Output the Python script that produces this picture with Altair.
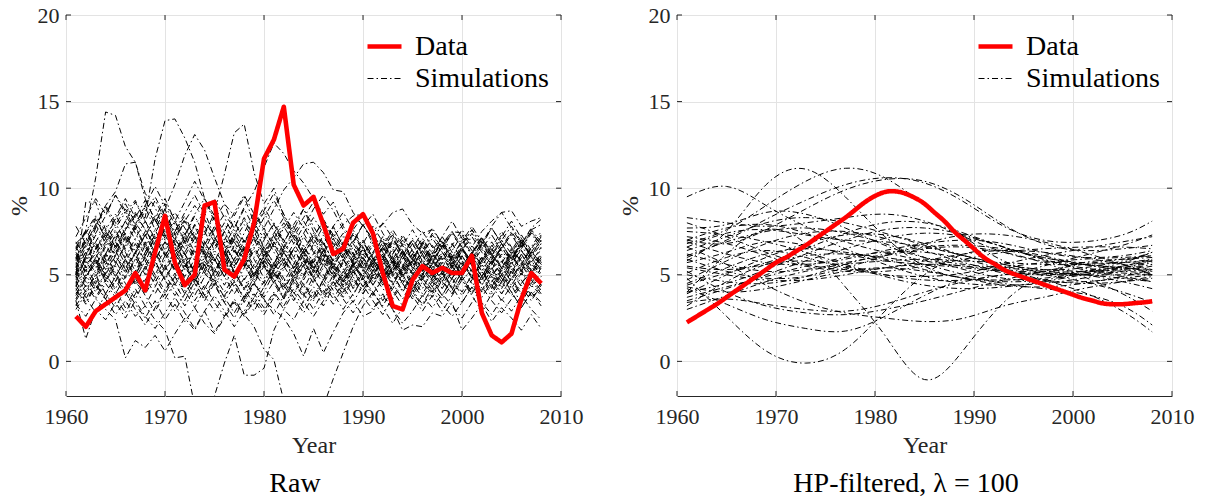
import altair as alt
import pandas as pd

# ---------------------------------------------------------------- data
years = list(range(1961, 2009))

# observed series, raw (yearly, %)
data_raw = [2.6, 2.0, 2.9, 3.3, 3.7, 4.1, 5.1, 4.1, 6.3, 8.4,
            5.7, 4.4, 5.0, 9.0, 9.2, 5.3, 4.9, 5.9, 8.0, 11.7,
            12.8, 14.7, 10.2, 9.0, 9.5, 7.9, 6.2, 6.5, 8.0, 8.5,
            7.4, 5.1, 3.2, 3.0, 4.7, 5.5, 5.1, 5.4, 5.1, 5.1,
            6.1, 2.8, 1.5, 1.1, 1.6, 3.6, 5.1, 4.5]

# observed series, HP-filtered (yearly, %)
data_hp = [2.25, 2.6, 2.95, 3.3, 3.7, 4.1, 4.5, 4.9, 5.3, 5.7,
           6.0, 6.35, 6.7, 7.1, 7.5, 7.9, 8.3, 8.75, 9.2, 9.55,
           9.78, 9.82, 9.7, 9.45, 9.1, 8.6, 8.1, 7.5, 7.0, 6.5,
           6.0, 5.65, 5.3, 5.05, 4.85, 4.65, 4.45, 4.25, 4.05, 3.85,
           3.65, 3.5, 3.35, 3.3, 3.3, 3.35, 3.4, 3.47]

# simulated paths, raw (yearly 1961-2008, %)
sim_raw = [
    [5.0, 7.6, 10.6, 14.4, 14.2, 12.4, 11.5, 9.7, 8.9, 7.4, 8.1, 6.9, 7.5, 6.2, 5.8, 6.6, 5.1, 5.9, 7.2, 6.4,
     5.3, 6.0, 4.7, 5.5, 6.8, 6.1, 7.4, 6.5, 5.6, 4.9, 5.8, 4.6, 5.2, 6.3, 5.7, 4.8, 5.4, 6.1, 5.5, 4.7,
     5.3, 6.0, 5.2, 4.5, 5.8, 6.4, 5.6, 5.1],
    [4.5, 6.1, 7.7, 9.0, 9.8, 11.4, 11.5, 9.4, 8.1, 8.8, 7.3, 6.5, 7.9, 8.6, 7.2, 6.3, 5.5, 6.7, 5.9, 4.8,
     5.6, 6.9, 7.8, 6.6, 5.7, 6.4, 5.2, 4.4, 5.5, 6.2, 5.4, 6.6, 7.3, 6.1, 5.0, 5.8, 6.7, 5.9, 4.8, 5.5,
     6.3, 5.6, 4.9, 5.7, 6.5, 5.8, 5.0, 5.9],
    [6.0, 5.2, 6.5, 7.3, 6.1, 7.6, 8.4, 8.3, 11.7, 13.9, 14.0, 12.9, 11.5, 9.4, 8.2, 9.1, 7.6, 6.8, 7.9, 6.5,
     5.7, 6.6, 7.3, 6.0, 5.2, 6.4, 7.1, 5.9, 5.1, 5.8, 6.7, 5.5, 4.6, 5.4, 6.2, 5.3, 4.5, 5.2, 6.1, 5.6,
     4.9, 5.7, 6.5, 5.4, 4.7, 5.5, 6.3, 5.7],
    [5.5, 6.3, 5.4, 6.8, 7.6, 6.5, 7.8, 8.9, 7.6, 8.8, 10.2, 11.9, 13.1, 12.2, 10.6, 9.1, 8.4, 9.5, 8.0, 7.1,
     7.9, 6.8, 6.0, 7.2, 6.3, 5.5, 6.6, 7.4, 6.2, 5.4, 6.3, 7.0, 5.8, 5.1, 6.0, 6.8, 5.9, 5.0, 5.7, 6.5,
     5.6, 4.9, 5.8, 6.6, 5.7, 5.0, 5.9, 6.4],
    [4.8, 5.9, 6.8, 5.6, 6.5, 7.4, 6.2, 7.3, 8.2, 7.0, 6.1, 7.2, 8.4, 7.3, 8.6, 10.8, 13.2, 13.7, 10.9, 9.1,
     10.0, 8.4, 7.6, 8.8, 7.5, 6.7, 7.8, 6.6, 5.8, 6.9, 5.9, 5.1, 6.2, 7.0, 5.9, 5.2, 6.1, 6.9, 6.0, 5.3,
     6.2, 7.0, 6.1, 5.4, 6.3, 7.1, 6.2, 5.6],
    [5.8, 6.7, 5.6, 6.6, 7.5, 6.4, 5.5, 6.7, 7.6, 6.4, 7.5, 8.4, 7.2, 6.4, 7.6, 8.5, 7.7, 8.9, 9.8, 11.2,
     12.6, 12.0, 11.0, 10.3, 9.4, 8.5, 9.2, 7.8, 6.9, 7.9, 6.8, 6.0, 7.0, 6.2, 5.3, 6.2, 7.1, 6.3, 5.5, 6.4,
     7.2, 6.3, 5.6, 6.5, 7.4, 6.4, 5.7, 6.6],
    [4.2, 3.3, 4.4, 3.6, 2.7, 3.5, 2.6, 3.2, 2.4, 1.8, 0.2, 0.3, -2.6, -3.5, -2.0, -0.1, 1.5, -0.8, -0.8, -0.4,
     1.8, 3.0, 2.4, 3.5, 4.3, 3.6, 4.6, 3.9, 4.8, 4.1, 5.0, 4.2, 3.6, 4.5, 5.3, 4.6, 3.9, 4.8, 5.5, 4.7,
     3.9, 4.7, 5.4, 4.6, 3.8, 4.5, 5.2, 4.4],
    [6.3, 5.4, 6.5, 7.4, 6.3, 7.2, 6.1, 5.3, 6.4, 7.3, 6.2, 5.4, 6.5, 7.5, 8.3, 7.2, 6.3, 7.4, 8.6, 7.7,
     8.8, 9.9, 10.6, 11.4, 11.5, 10.9, 9.9, 9.8, 8.6, 7.8, 8.5, 7.4, 6.5, 7.3, 6.4, 5.6, 6.4, 7.2, 6.3, 5.5,
     6.3, 7.1, 6.2, 5.4, 6.2, 7.0, 6.1, 5.6],
    [3.9, 4.8, 5.7, 4.6, 5.5, 4.5, 3.6, 4.7, 5.6, 4.7, 3.8, 4.6, 3.5, 4.4, 3.4, 2.6, 3.5, 2.7, 2.0, 0.7,
     0.1, -2.3, -4.0, -4.5, -4.0, -2.6, -1.0, 0.5, 2.0, 3.2, 4.0, 3.2, 4.2, 5.0, 4.2, 5.1, 4.3, 3.6, 4.5, 5.3,
     4.5, 3.7, 4.6, 5.4, 4.6, 3.9, 4.8, 5.5],
    [3.5, 4.4, 3.6, 3.0, 2.4, 0.2, 1.2, 0.8, 1.5, 0.6, 1.6, 2.5, 1.8, 2.9, 3.8, 2.9, 2.0, 2.9, 3.9, 3.1,
     4.0, 3.2, 4.2, 3.4, 2.6, 3.5, 4.4, 3.6, 2.8, 3.7, 3.0, 3.9, 3.0, 2.2, 2.9, 3.8, 3.1, 3.9, 3.2, 2.5,
     3.4, 4.3, 3.5, 2.8, 3.6, 4.4, 3.7, 4.2],
    [5.2, 4.3, 5.3, 6.2, 5.1, 4.2, 5.2, 6.0, 5.0, 4.1, 4.9, 3.9, 4.8, 3.8, 2.9, 3.8, 4.6, 3.6, 4.5, 3.5,
     3.0, 2.5, 1.6, 0.3, 1.9, 0.5, 1.7, 2.8, 3.5, 2.6, 2.9, 3.8, 3.0, 1.8, 2.1, 2.0, 2.8, 2.6, 3.4, 1.8,
     2.5, 3.3, 2.3, 3.1, 2.5, 1.8, 2.7, 1.9],
    [5.0, 9.2, 9.2, 7.6, 8.5, 7.3, 6.4, 7.5, 8.4, 7.3, 6.4, 5.5, 6.6, 7.5, 6.4, 5.6, 6.7, 5.8, 4.9, 6.0,
     6.9, 5.9, 5.1, 6.2, 7.1, 6.2, 5.4, 6.5, 7.3, 6.4, 5.6, 6.6, 7.6, 6.7, 5.8, 6.8, 7.7, 6.8, 6.0, 6.9,
     7.8, 6.9, 6.1, 7.0, 7.8, 6.9, 6.1, 7.0],
    [3.5, 1.3, 3.0, 2.4, 3.4, 2.5, 3.5, 2.6, 1.9, 2.8, 3.7, 2.8, 1.9, 2.9, 1.7, 2.6, 3.6, 2.7, 3.7, 2.9,
     3.9, 3.0, 4.0, 3.1, 4.1, 3.2, 4.3, 5.2, 4.3, 5.3, 4.4, 5.4, 4.5, 3.6, 4.6, 5.5, 4.6, 5.5, 4.7, 3.8,
     4.7, 5.6, 4.7, 3.9, 4.8, 5.7, 4.8, 4.1],
    [6.6, 7.5, 8.4, 7.5, 6.6, 7.6, 8.5, 7.6, 6.7, 7.7, 8.6, 7.7, 6.8, 7.8, 6.9, 6.0, 7.0, 7.9, 7.0, 6.1,
     7.1, 8.0, 7.1, 6.2, 7.2, 8.1, 7.2, 7.9, 8.4, 8.5, 7.6, 7.9, 8.6, 8.8, 7.9, 7.4, 7.6, 6.8, 7.5, 7.4,
     6.6, 7.5, 8.1, 8.6, 8.7, 7.8, 8.1, 8.3],
    [4.3, 5.6, 6.2, 7.1, 6.0, 5.4, 6.3, 5.1, 4.6, 5.5, 6.3, 7.2, 6.0, 5.1, 4.4, 5.3, 6.4, 5.6, 4.5, 3.7,
     4.6, 5.3, 6.5, 5.5, 6.2, 7.3, 6.1, 5.4, 4.2, 5.1, 4.5, 3.5, 4.4, 5.5, 4.2, 5.0, 6.2, 5.3, 4.1, 5.2,
     6.3, 5.4, 4.2, 5.1, 4.4, 3.3, 4.5, 5.4],
    [6.8, 7.4, 8.3, 7.1, 8.2, 9.1, 8.0, 7.2, 8.3, 9.4, 8.1, 7.0, 7.8, 6.6, 5.8, 6.9, 5.7, 6.6, 7.5, 6.3,
     5.4, 6.5, 5.8, 4.9, 5.9, 6.9, 5.7, 4.8, 5.6, 6.6, 5.4, 4.7, 5.6, 4.5, 3.8, 4.8, 5.6, 4.6, 3.9, 4.9,
     5.8, 4.9, 3.7, 4.6, 5.5, 4.7, 3.8, 4.5],
    [5.4, 6.6, 7.8, 8.9, 7.7, 8.6, 9.3, 8.1, 7.0, 6.1, 7.0, 8.1, 9.0, 8.2, 7.1, 6.3, 5.4, 6.5, 7.7, 8.6,
     7.5, 6.6, 7.5, 6.4, 5.5, 4.8, 5.9, 6.8, 5.6, 4.9, 5.8, 6.9, 5.9, 5.0, 4.1, 5.0, 6.0, 6.9, 5.8, 6.6,
     5.5, 4.7, 5.6, 6.6, 7.3, 6.4, 5.5, 6.2],
    [4.0, 3.6, 4.7, 5.8, 4.9, 5.9, 4.6, 3.9, 4.8, 5.9, 6.8, 5.7, 4.6, 3.5, 4.5, 5.7, 4.6, 3.7, 4.9, 5.8,
     4.7, 3.6, 4.5, 5.6, 4.8, 3.9, 5.0, 6.1, 5.2, 4.3, 5.2, 6.2, 5.1, 4.0, 4.9, 3.9, 4.8, 5.9, 6.8, 5.9,
     4.8, 5.9, 6.9, 6.0, 5.1, 6.2, 5.3, 4.4],
    [5.9, 6.9, 5.8, 4.6, 5.6, 6.8, 7.7, 6.6, 5.5, 6.4, 5.3, 4.5, 5.6, 6.7, 7.8, 6.7, 5.8, 4.7, 5.6, 6.5,
     7.4, 8.3, 7.1, 6.2, 5.1, 6.1, 5.0, 4.1, 5.2, 6.1, 7.1, 6.3, 5.2, 6.1, 7.0, 6.1, 5.3, 4.4, 5.4, 6.4,
     5.5, 4.4, 5.3, 4.6, 5.6, 6.6, 7.5, 6.7],
    [4.6, 3.7, 2.8, 3.9, 3.1, 4.2, 3.3, 2.5, 3.5, 2.4, 3.3, 2.3, 3.1, 2.2, 1.6, 2.5, 3.4, 2.6, 3.5, 2.7,
     3.7, 4.6, 3.7, 2.8, 3.8, 4.7, 3.9, 3.0, 3.9, 4.8, 4.0, 3.1, 2.2, 3.1, 4.0, 3.2, 4.1, 3.3, 2.6, 3.4,
     4.3, 3.4, 2.7, 3.6, 2.9, 3.8, 3.0, 2.4],
    [6.2, 5.1, 6.0, 6.9, 7.9, 8.8, 7.9, 9.0, 8.0, 9.1, 8.2, 7.3, 8.5, 9.4, 8.4, 7.5, 8.6, 9.6, 8.5, 7.6,
     6.6, 7.7, 8.6, 7.7, 8.8, 9.6, 8.7, 7.6, 6.8, 7.9, 7.0, 6.0, 7.1, 6.3, 5.4, 6.4, 5.6, 6.7, 7.5, 6.6,
     5.7, 6.8, 7.7, 6.8, 5.9, 6.8, 7.6, 7.9],
    [5.7, 4.8, 5.9, 5.0, 4.2, 5.3, 4.4, 5.5, 4.4, 3.6, 4.6, 5.6, 4.7, 5.8, 4.9, 4.0, 4.9, 5.9, 5.0, 6.1,
     5.2, 4.3, 5.4, 6.3, 5.3, 4.5, 5.5, 4.6, 5.7, 4.8, 3.9, 4.8, 5.7, 4.9, 5.8, 4.8, 4.0, 4.9, 5.8, 4.9,
     4.0, 4.9, 5.8, 5.0, 4.2, 5.1, 4.3, 5.2],
    [4.9, 6.1, 7.3, 6.2, 7.3, 6.3, 5.2, 6.3, 7.4, 8.5, 7.5, 8.6, 9.6, 8.5, 9.4, 8.3, 7.2, 8.2, 7.1, 6.2,
     7.2, 6.3, 5.3, 6.4, 7.3, 6.4, 5.5, 6.4, 7.4, 6.5, 5.6, 6.7, 5.9, 5.0, 5.9, 6.9, 6.0, 5.1, 6.0, 7.0,
     6.1, 5.2, 6.1, 7.0, 6.2, 5.3, 6.3, 5.8],
    [3.8, 4.9, 5.8, 4.8, 3.9, 4.9, 5.9, 6.9, 5.8, 4.7, 5.8, 4.8, 3.8, 4.9, 5.9, 4.9, 3.9, 4.8, 3.7, 4.6,
     5.7, 4.8, 3.9, 4.9, 5.8, 6.8, 5.8, 4.9, 5.9, 6.9, 6.0, 5.0, 5.9, 6.8, 5.9, 5.0, 6.0, 6.9, 5.9, 5.0,
     5.9, 6.8, 5.9, 5.0, 6.0, 6.9, 6.0, 5.3],
    [6.0, 7.1, 6.2, 5.3, 6.4, 5.3, 6.3, 7.3, 6.2, 5.2, 6.2, 5.3, 6.4, 5.5, 6.6, 7.5, 6.4, 5.5, 6.5, 7.4,
     6.3, 5.4, 6.5, 7.4, 6.4, 5.6, 4.8, 5.8, 6.8, 5.9, 6.9, 6.0, 5.1, 6.1, 7.0, 6.2, 7.3, 6.5, 7.4, 6.8,
     7.6, 6.8, 7.8, 8.6, 7.7, 6.8, 7.6, 6.9],
    [4.4, 5.3, 4.2, 5.1, 6.2, 7.1, 6.0, 5.0, 5.9, 6.9, 5.9, 7.0, 6.1, 5.1, 6.2, 5.2, 4.3, 5.4, 6.4, 5.5,
     4.5, 5.5, 4.6, 3.7, 4.6, 5.6, 4.6, 3.7, 4.7, 3.9, 4.9, 5.9, 5.0, 4.1, 5.0, 5.9, 5.1, 4.2, 5.2, 6.1,
     5.2, 4.4, 5.3, 6.2, 5.3, 4.5, 5.3, 4.6],
    [6.6, 5.7, 6.9, 7.9, 6.9, 5.9, 5.0, 6.0, 5.0, 6.1, 7.1, 6.2, 5.1, 4.2, 5.2, 6.2, 5.2, 4.2, 5.2, 4.3,
     5.3, 4.4, 3.5, 4.5, 3.6, 4.7, 5.6, 4.7, 3.8, 4.9, 5.9, 5.0, 4.1, 3.2, 4.1, 3.3, 4.3, 5.2, 4.3, 3.4,
     4.3, 5.2, 4.4, 3.5, 4.4, 5.3, 4.4, 3.8],
    [5.1, 6.0, 5.1, 6.2, 7.2, 8.1, 7.0, 6.1, 7.2, 6.2, 5.3, 6.3, 7.3, 6.2, 5.2, 6.3, 7.4, 6.4, 5.3, 6.2,
     5.2, 6.3, 7.2, 8.1, 7.1, 8.2, 7.3, 6.3, 5.4, 6.5, 5.6, 4.7, 5.8, 4.9, 5.9, 6.8, 5.8, 5.0, 5.9, 5.0,
     5.9, 6.9, 6.0, 5.2, 6.1, 5.2, 6.2, 7.0],
    [4.7, 5.5, 4.5, 3.6, 4.7, 3.8, 4.8, 5.8, 4.8, 3.9, 4.9, 6.0, 5.0, 6.0, 7.0, 6.0, 7.1, 6.1, 5.0, 5.9,
     4.9, 5.9, 4.9, 5.8, 4.8, 3.8, 4.7, 5.7, 6.6, 5.6, 4.6, 5.6, 6.5, 5.6, 4.6, 5.6, 4.7, 3.8, 4.8, 5.8,
     4.9, 4.0, 4.9, 5.8, 4.8, 3.9, 4.9, 5.7],
    [3.2, 4.1, 5.0, 6.1, 7.0, 6.0, 7.1, 8.1, 7.1, 8.0, 7.0, 6.1, 7.1, 6.0, 5.0, 6.0, 5.1, 4.1, 5.0, 6.1,
     5.1, 4.2, 5.1, 6.2, 5.3, 6.4, 5.5, 4.6, 5.6, 4.7, 5.7, 6.6, 5.7, 6.7, 7.6, 6.6, 5.7, 6.6, 7.4, 6.5,
     5.6, 6.5, 7.3, 6.4, 5.6, 6.5, 7.4, 6.5],
    [5.5, 4.6, 3.7, 4.7, 5.8, 4.8, 5.9, 6.8, 5.8, 6.9, 5.8, 4.9, 5.9, 6.9, 5.9, 4.9, 5.9, 7.0, 6.0, 7.0,
     8.0, 7.0, 6.0, 5.0, 6.0, 5.0, 4.1, 5.1, 6.1, 5.2, 6.2, 7.1, 6.2, 7.2, 6.3, 5.3, 6.3, 5.4, 6.4, 7.3,
     6.4, 5.5, 6.4, 7.3, 6.5, 5.6, 6.6, 7.5],
    [6.4, 7.5, 6.5, 7.6, 6.6, 7.7, 8.6, 7.6, 6.6, 7.6, 6.6, 5.6, 4.6, 5.6, 4.6, 3.7, 4.7, 5.7, 4.7, 5.8,
     6.8, 5.8, 6.8, 5.9, 4.9, 5.9, 6.9, 5.9, 4.9, 5.8, 4.8, 5.8, 4.9, 5.9, 6.8, 5.8, 4.8, 5.7, 4.8, 5.7,
     4.8, 5.8, 6.7, 5.9, 5.0, 6.0, 5.1, 6.0],
    [7.2, 8.3, 9.4, 8.5, 9.6, 8.7, 7.6, 8.7, 9.5, 8.4, 7.3, 8.2, 7.2, 6.1, 7.0, 8.0, 6.9, 5.9, 6.8, 7.7,
     6.6, 5.6, 6.5, 7.4, 8.3, 7.4, 6.3, 7.2, 6.2, 5.3, 6.3, 7.2, 6.4, 5.5, 6.5, 7.5, 6.6, 5.7, 6.7, 7.6,
     6.7, 5.8, 6.6, 7.5, 6.6, 5.7, 6.5, 7.3],
    [3.3, 2.6, 3.6, 4.5, 3.7, 2.8, 3.9, 4.8, 3.9, 5.0, 4.1, 3.2, 4.2, 5.3, 4.4, 3.4, 2.5, 3.6, 4.6, 3.6,
     2.7, 3.8, 4.9, 3.9, 3.0, 4.1, 3.3, 4.3, 3.4, 4.4, 3.5, 2.7, 3.7, 4.7, 3.8, 2.9, 3.8, 2.9, 3.8, 4.7,
     3.8, 2.9, 3.9, 4.8, 4.0, 3.1, 4.0, 3.2],
    [5.9, 7.0, 8.2, 7.1, 8.3, 9.4, 8.3, 9.3, 8.2, 7.1, 8.1, 9.2, 10.4, 9.3, 8.1, 7.0, 8.1, 6.9, 7.8, 8.7,
     9.7, 8.5, 7.4, 8.3, 9.2, 8.1, 7.1, 6.1, 7.0, 6.0, 5.2, 6.2, 5.4, 6.4, 5.5, 4.7, 5.7, 6.7, 5.8, 6.7,
     7.6, 6.6, 5.7, 6.6, 5.8, 6.8, 7.7, 8.2],
    [4.1, 5.0, 4.0, 5.1, 4.1, 3.1, 4.2, 3.2, 4.3, 5.4, 4.4, 5.5, 4.5, 3.6, 4.7, 3.7, 2.8, 3.8, 2.9, 4.0,
     5.1, 4.1, 5.2, 4.2, 5.3, 6.2, 5.2, 4.3, 5.3, 4.3, 5.3, 4.4, 5.4, 4.5, 3.6, 4.6, 3.7, 4.7, 3.9, 4.9,
     3.9, 4.9, 4.0, 5.0, 4.0, 3.1, 4.0, 3.4],
    [6.9, 5.8, 4.9, 5.9, 7.0, 8.1, 9.2, 8.1, 9.3, 8.2, 7.1, 6.2, 5.1, 6.1, 5.1, 6.2, 7.3, 8.3, 7.2, 8.3,
     9.3, 8.3, 7.3, 6.4, 7.4, 6.5, 5.6, 6.6, 5.7, 6.8, 7.8, 6.9, 6.0, 5.1, 6.0, 5.2, 6.1, 7.0, 6.1, 5.2,
     6.2, 7.2, 6.2, 5.4, 6.4, 7.3, 6.4, 5.6],
    [4.9, 4.0, 5.0, 3.9, 4.9, 5.9, 4.8, 3.8, 2.9, 3.9, 2.9, 3.9, 4.9, 3.8, 4.8, 5.8, 4.7, 5.7, 6.6, 5.6,
     4.6, 5.6, 6.5, 5.5, 4.5, 5.4, 6.3, 5.3, 6.3, 5.4, 4.4, 5.3, 4.4, 5.4, 4.5, 3.7, 4.6, 3.8, 4.8, 4.0,
     5.0, 4.1, 5.1, 4.3, 5.2, 4.3, 3.5, 4.4],
    [5.3, 6.3, 7.4, 8.4, 9.6, 8.5, 7.4, 6.3, 7.3, 6.2, 5.2, 6.2, 5.2, 6.4, 5.4, 4.4, 5.4, 6.5, 5.5, 4.5,
     5.6, 6.6, 5.7, 4.7, 5.7, 4.7, 5.8, 6.9, 6.0, 7.0, 6.0, 5.1, 6.1, 5.2, 6.2, 7.1, 6.2, 7.2, 8.1, 7.1,
     6.2, 7.1, 6.2, 7.2, 8.1, 7.1, 6.3, 7.2],
    [3.6, 4.8, 6.0, 5.0, 6.1, 5.1, 6.3, 7.3, 6.3, 5.3, 6.3, 7.4, 6.3, 5.3, 6.4, 7.5, 6.5, 5.5, 4.6, 5.6,
     4.7, 3.7, 4.7, 5.8, 4.8, 5.9, 4.9, 4.0, 5.0, 6.0, 5.0, 6.0, 5.1, 6.1, 5.1, 4.2, 5.2, 6.1, 5.1, 6.1,
     5.1, 6.0, 5.0, 4.2, 5.2, 6.2, 5.2, 6.1],
    [6.5, 7.6, 6.6, 5.6, 4.6, 5.7, 6.8, 5.8, 6.9, 7.9, 6.8, 5.8, 4.8, 5.8, 6.9, 5.9, 4.8, 5.9, 4.9, 5.8,
     6.8, 7.8, 6.8, 7.8, 6.8, 7.8, 6.8, 5.9, 6.9, 7.9, 7.0, 8.0, 7.1, 6.1, 7.1, 6.2, 5.3, 6.3, 5.4, 6.4,
     7.4, 6.5, 5.6, 6.6, 7.5, 6.6, 7.5, 6.7],
    [4.4, 3.4, 4.5, 5.6, 6.7, 5.6, 4.5, 5.5, 6.6, 5.5, 4.5, 3.5, 4.6, 5.6, 4.5, 3.4, 4.4, 3.4, 4.5, 5.5,
     4.5, 3.6, 4.7, 3.8, 4.9, 5.9, 4.9, 5.9, 4.9, 3.9, 4.9, 5.9, 6.9, 5.9, 6.8, 5.8, 4.9, 5.9, 6.8, 5.8,
     4.9, 5.8, 4.9, 3.9, 4.8, 5.6, 4.7, 3.9],
    [5.6, 6.8, 7.9, 9.0, 8.0, 6.9, 7.9, 9.0, 10.1, 9.0, 7.9, 6.9, 5.8, 6.8, 7.8, 6.7, 7.7, 8.8, 7.7, 6.6,
     5.6, 4.6, 5.6, 6.7, 5.7, 6.7, 7.8, 8.6, 7.6, 8.4, 7.4, 6.4, 7.4, 6.4, 5.5, 6.4, 7.4, 6.5, 5.6, 6.6,
     5.7, 6.7, 7.7, 6.8, 5.9, 6.9, 6.0, 6.8],
    [3.0, 3.9, 4.8, 3.9, 4.9, 4.0, 3.0, 2.1, 3.1, 4.1, 5.1, 4.1, 3.1, 4.2, 5.2, 6.2, 5.2, 4.2, 3.3, 4.3,
     5.3, 6.3, 5.4, 4.4, 3.5, 4.5, 3.6, 4.6, 5.6, 4.7, 3.8, 4.8, 5.8, 4.9, 4.0, 4.9, 4.1, 5.1, 4.2, 5.2,
     6.1, 5.2, 4.3, 5.3, 6.2, 5.2, 4.3, 4.9],
    [7.8, 6.8, 7.9, 6.8, 5.7, 6.7, 7.8, 6.7, 5.7, 4.8, 5.8, 6.9, 7.9, 6.9, 5.9, 4.9, 5.9, 6.9, 7.9, 8.9,
     7.9, 6.9, 7.9, 8.8, 7.8, 6.8, 7.7, 6.7, 7.6, 6.6, 5.7, 6.6, 5.7, 4.8, 5.7, 6.7, 5.8, 6.7, 5.8, 4.9,
     5.8, 4.9, 5.9, 6.8, 5.9, 6.9, 6.0, 5.2],
    [5.0, 5.9, 6.9, 5.9, 5.0, 4.0, 5.0, 6.1, 7.1, 6.1, 7.1, 8.1, 7.1, 8.2, 7.2, 6.2, 7.2, 6.2, 5.3, 6.3,
     7.3, 6.3, 5.4, 6.4, 5.4, 6.4, 5.4, 4.5, 5.5, 6.5, 5.5, 4.5, 5.5, 6.4, 5.4, 6.4, 5.5, 4.6, 5.6, 6.5,
     5.6, 4.7, 5.7, 4.8, 5.8, 6.7, 5.8, 4.9],
]

# simulated paths after HP filtering, sampled every four years (%)
hp_years = [1961, 1965, 1969, 1973, 1977, 1981, 1985, 1989, 1993, 1997, 2001, 2005, 2008]
sim_hp = [
    [9.5, 10.1, 9.0, 7.8, 6.9, 6.3, 5.8, 5.5, 5.3, 5.1, 5.0, 5.0, 5.0],
    [5.8, 7.5, 10.2, 11.1, 9.5, 7.2, 5.5, 4.8, 4.7, 4.8, 5.1, 5.4, 5.7],
    [4.0, 6.2, 7.6, 6.8, 4.3, 1.5, -1.05, 0.7, 3.4, 5.0, 5.7, 5.9, 6.0],
    [4.8, 2.6, 0.6, -0.1, 0.7, 2.9, 5.0, 6.2, 6.4, 6.0, 5.6, 5.4, 5.3],
    [4.2, 3.3, 2.4, 1.9, 1.75, 2.6, 3.8, 4.8, 5.4, 5.7, 5.9, 6.0, 6.1],
    [6.6, 5.6, 4.4, 3.4, 2.8, 2.5, 2.3, 2.5, 3.2, 3.7, 4.2, 4.6, 4.9],
    [5.2, 4.0, 3.2, 2.8, 2.7, 3.0, 3.5, 4.1, 4.7, 5.2, 5.6, 5.9, 6.1],
    [3.4, 3.6, 3.3, 3.0, 2.9, 3.3, 4.0, 4.6, 5.0, 5.1, 5.0, 4.8, 4.6],
    [6.0, 7.0, 8.2, 9.3, 10.2, 10.6, 10.3, 9.2, 7.8, 7.0, 6.9, 7.3, 8.1],
    [6.8, 7.6, 9.0, 10.4, 11.15, 10.6, 9.0, 7.2, 5.8, 5.1, 5.0, 5.3, 5.6],
    [7.0, 6.8, 7.6, 8.8, 9.9, 10.5, 10.4, 9.4, 7.9, 6.8, 6.4, 6.5, 6.7],
    [8.3, 8.0, 7.8, 8.0, 8.3, 8.5, 8.1, 7.2, 6.3, 5.8, 5.6, 5.4, 5.2],
    [7.7, 7.9, 8.6, 8.5, 7.7, 6.7, 6.0, 5.6, 5.4, 5.2, 5.0, 4.6, 4.2],
    [6.6, 7.4, 7.6, 7.3, 7.0, 6.9, 6.6, 6.1, 5.6, 5.3, 5.4, 5.8, 6.3],
    [5.7, 6.3, 6.9, 6.7, 6.2, 5.8, 5.6, 5.4, 5.2, 5.0, 4.6, 4.0, 3.4],
    [5.1, 6.0, 6.4, 6.0, 5.4, 5.0, 4.9, 5.1, 5.6, 6.1, 6.5, 6.9, 7.2],
    [4.5, 5.4, 6.2, 6.5, 6.3, 5.9, 5.3, 4.8, 4.6, 4.7, 5.1, 5.5, 5.8],
    [3.2, 4.6, 5.6, 6.1, 6.2, 6.0, 5.6, 5.0, 4.5, 4.2, 3.9, 3.2, 2.1],
    [3.7, 4.3, 4.9, 5.5, 6.0, 6.3, 6.3, 5.9, 5.3, 4.7, 4.0, 2.9, 1.7],
    [6.2, 5.6, 5.2, 5.3, 5.7, 6.1, 6.5, 6.6, 6.3, 5.7, 4.9, 3.9, 2.9],
    [7.2, 6.8, 6.1, 5.5, 5.2, 5.2, 5.5, 5.9, 6.3, 6.5, 6.6, 6.6, 6.5],
    [4.0, 4.5, 5.3, 6.2, 7.0, 7.6, 7.7, 7.3, 6.6, 5.9, 5.4, 5.2, 5.1],
    [5.4, 5.0, 4.7, 4.7, 5.0, 5.4, 5.6, 5.5, 5.1, 4.7, 4.5, 4.6, 4.8],
    [6.9, 6.2, 5.7, 5.6, 5.9, 6.4, 6.8, 7.0, 6.8, 6.3, 6.0, 6.1, 6.4],
    [4.4, 5.1, 5.6, 5.8, 5.5, 4.9, 4.4, 4.2, 4.3, 4.6, 5.0, 5.4, 5.8],
    [3.5, 4.2, 5.0, 5.8, 6.5, 7.1, 7.4, 7.2, 6.6, 5.9, 5.3, 4.9, 4.6],
    [6.1, 6.9, 7.5, 7.7, 7.4, 6.8, 6.0, 5.3, 4.8, 4.6, 4.6, 4.8, 5.0],
    [5.0, 4.6, 4.5, 4.9, 5.6, 6.2, 6.6, 6.7, 6.5, 6.1, 5.6, 5.3, 5.2],
    [7.5, 7.3, 6.9, 6.3, 5.6, 5.0, 4.7, 4.7, 5.0, 5.5, 6.1, 6.7, 7.3],
    [4.7, 5.8, 6.8, 7.4, 7.5, 7.1, 6.4, 5.7, 5.2, 5.0, 5.2, 5.7, 6.3],
    [8.0, 7.2, 6.3, 5.6, 5.3, 5.4, 5.8, 6.2, 6.4, 6.3, 6.0, 5.6, 5.3],
    [3.0, 3.8, 4.6, 5.2, 5.6, 5.8, 5.9, 5.8, 5.7, 5.6, 5.6, 5.7, 5.9],
    [6.4, 7.2, 8.0, 8.3, 8.0, 7.4, 6.7, 6.1, 5.6, 5.3, 5.2, 5.1, 5.0],
    [5.5, 5.3, 5.7, 6.5, 7.4, 8.0, 8.0, 7.4, 6.6, 6.0, 5.7, 5.7, 5.8],
    [4.3, 4.0, 4.2, 4.7, 5.2, 5.4, 5.2, 4.8, 4.4, 4.3, 4.5, 4.9, 5.3],
    [7.0, 7.7, 7.9, 7.4, 6.5, 5.6, 4.9, 4.5, 4.4, 4.5, 4.8, 5.2, 5.5],
    [5.9, 5.2, 4.8, 4.9, 5.4, 6.1, 6.8, 7.3, 7.3, 6.9, 6.3, 5.6, 5.0],
    [3.9, 5.0, 6.0, 6.8, 7.3, 7.3, 6.8, 6.1, 5.5, 5.2, 5.2, 5.5, 5.9],
]

x_ticks = [1960, 1970, 1980, 1990, 2000, 2010]
y_ticks = [0, 5, 10, 15, 20]
series_names = ["Data", "Simulations"]
subtitles = ["Raw", "HP-filtered, λ = 100"]

# ---------------------------------------------------------------- style
FONT = "Liberation Serif"
INK = "#262626"
W, H = 495, 381
TICK = 5


def frame_of(xs, rows, name):
    recs = []
    for i, row in enumerate(rows):
        for yr, v in zip(xs, row):
            recs.append({"year": yr, "value": v, "run": i, "series": name})
    return pd.DataFrame(recs)


def panel(sim_df, data_df, interp, subtitle):
    x = alt.X("year:Q",
              scale=alt.Scale(domain=[1960, 2010], nice=False, zero=False),
              axis=alt.Axis(values=x_ticks, format="d", title="Year",
                            labelFont=FONT, titleFont=FONT))
    y = alt.Y("value:Q",
              scale=alt.Scale(domain=[-2, 20], nice=False, zero=False),
              axis=alt.Axis(values=y_ticks, title="%", labelFont=FONT, titleFont=FONT))
    legend = alt.Legend(title=None, orient="top-right", offset=12,
                        symbolType="stroke", symbolSize=1156, padding=0,
                        labelOffset=11, rowPadding=0, labelFont=FONT)
    color = alt.Color("series:N", legend=legend,
                      scale=alt.Scale(domain=series_names, range=["#ff0000", "#000000"]))
    dash = alt.StrokeDash("series:N", legend=legend,
                          scale=alt.Scale(domain=series_names, range=[[1, 0], [6, 3, 1.5, 3]]))
    width = alt.StrokeWidth("series:N", legend=legend,
                            scale=alt.Scale(domain=series_names, range=[4.6, 1.0]))

    sims = alt.Chart(sim_df).mark_line(clip=True, interpolate=interp).encode(
        x=x, y=y, detail="run:N", color=color, strokeDash=dash, strokeWidth=width)
    obs = alt.Chart(data_df).mark_line(clip=True, interpolate=interp, strokeJoin="round").encode(
        x=x, y=y, color=color, strokeDash=dash, strokeWidth=width)

    # inward-pointing tick marks on all four sides of the box
    xt = pd.DataFrame({"year": x_ticks})
    yt = pd.DataFrame({"value": y_ticks})
    tick_style = dict(color=INK, strokeWidth=1)
    t_bottom = alt.Chart(xt).mark_rule(**tick_style).encode(x=x, y=alt.value(H), y2=alt.value(H - TICK))
    t_top = alt.Chart(xt).mark_rule(**tick_style).encode(x=x, y=alt.value(0), y2=alt.value(TICK))
    t_left = alt.Chart(yt).mark_rule(**tick_style).encode(y=y, x=alt.value(0), x2=alt.value(TICK))
    t_right = alt.Chart(yt).mark_rule(**tick_style).encode(y=y, x=alt.value(W - TICK), x2=alt.value(W))

    return alt.layer(sims, obs, t_bottom, t_top, t_left, t_right).properties(
        width=W, height=H,
        title=alt.TitleParams(subtitle, orient="bottom", anchor="middle", frame="bounds",
                              fontSize=28, font=FONT, fontWeight="normal", color="black",
                              offset=13),
    )


raw_sims = frame_of(years, sim_raw, "Simulations")
raw_obs = frame_of(years, [data_raw], "Data")
hp_sims = frame_of(hp_years, sim_hp, "Simulations")
hp_obs = frame_of(years, [data_hp], "Data")

left = panel(raw_sims, raw_obs, "linear", subtitles[0])
right = panel(hp_sims, hp_obs, "natural", subtitles[1])

chart = (
    alt.hconcat(left, right, spacing=33)
    .resolve_scale(color="independent", strokeDash="independent", strokeWidth="independent")
    .properties(padding={"left": 6, "top": 3, "right": 0, "bottom": 0})
    .configure(background="white", font=FONT)
    .configure_view(stroke=INK, strokeWidth=1)
    .configure_axis(labelFont=FONT, labelFontSize=22, labelColor=INK, labelFlush=False,
                    titleFont=FONT, titleFontSize=24, titleFontWeight="normal", titleColor=INK,
                    grid=True, gridColor="#e3e3e3", gridWidth=1, domain=False, ticks=False,
                    labelPadding=7, titlePadding=6)
    .configure_axisX(labelPadding=10, titlePadding=6)
    .configure_legend(labelFont=FONT, labelFontSize=28, labelColor="black")
)

chart.save("out.html", embed_options={"renderer": "svg", "actions": False})
